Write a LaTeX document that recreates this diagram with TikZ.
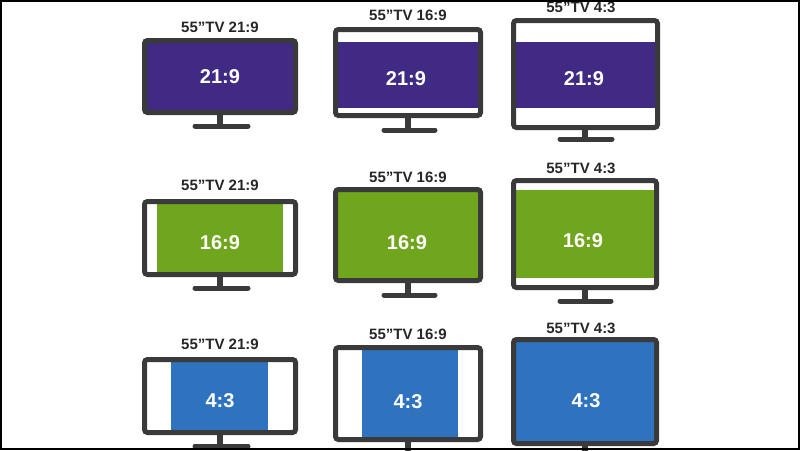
\documentclass[tikz,border=0pt]{standalone}
\usepackage{fontspec}
\setmainfont{Liberation Sans}
\definecolor{purp}{HTML}{402A83}
\definecolor{grn}{HTML}{70A61D}
\definecolor{blu}{HTML}{2F72BD}
\definecolor{frm}{HTML}{3A3A3A}
\tikzset{
  tvframe/.style={draw=frm, line width=5pt, rounded corners=3pt},
  lbl/.style={anchor=base, inner sep=0pt, font=\fontsize{15}{15}\selectfont\bfseries, text=black!85},
  scrtxt/.style={anchor=base, inner sep=0pt, font=\fontsize{20}{20}\selectfont\bfseries, text=white},
  neck/.style={draw=frm, line width=6pt},
  standbase/.style={draw=frm, line width=5pt, line cap=round},
}
\begin{document}
\begin{tikzpicture}[x=1pt,y=-1pt]
\useasboundingbox (0,0) rectangle (800,450);
\fill[white] (0,0) rectangle (800,450);
\begin{scope}
\clip (0,0) rectangle (800,450);
% ---------- Row 1 ----------
% TV1
\fill[purp] (147,43) rectangle (293,110);
\draw[tvframe] (144.5,40.5) rectangle (295.5,112.5);
\node[scrtxt] (s1) at (220,83) {21:9};
\node[lbl] (l1) at (220,32) {55”TV 21:9};
\coordinate (n1a) at (220,115); \coordinate (n1b) at (220,126);
\coordinate (b1a) at (195,126); \coordinate (b1b) at (248,126);
\draw[neck] (n1a) -- (n1b); \draw[standbase] (b1a) -- (b1b);
% TV2
\fill[purp] (338,42) rectangle (478,108);
\draw[tvframe] (335.5,29.5) rectangle (480.5,115.5);
\node[scrtxt] (s2) at (406,85) {21:9};
\node[lbl] (l2) at (408,20) {55”TV 16:9};
\coordinate (n2a) at (408,118); \coordinate (n2b) at (408,129);
\coordinate (b2a) at (384,130); \coordinate (b2b) at (435,130);
\draw[neck] (n2a) -- (n2b); \draw[standbase] (b2a) -- (b2b);
% TV3
\fill[purp] (516,42) rectangle (655,108);
\draw[tvframe] (513.5,20.5) rectangle (657.5,127.5);
\node[scrtxt] (s3) at (584,85) {21:9};
\node[lbl] (l3) at (581,12) {55”TV 4:3};
\coordinate (n3a) at (585,130); \coordinate (n3b) at (585,138);
\coordinate (b3a) at (560,139); \coordinate (b3b) at (612,139);
\draw[neck] (n3a) -- (n3b); \draw[standbase] (b3a) -- (b3b);
% ---------- Row 2 ----------
% TV4
\fill[grn] (157,204) rectangle (283,272);
\draw[tvframe] (144.5,201.5) rectangle (295.5,274.5);
\node[scrtxt] (s4) at (220,249) {16:9};
\node[lbl] (l4) at (220,190) {55”TV 21:9};
\coordinate (n4a) at (220,277); \coordinate (n4b) at (220,287);
\coordinate (b4a) at (195,288); \coordinate (b4b) at (248,288);
\draw[neck] (n4a) -- (n4b); \draw[standbase] (b4a) -- (b4b);
% TV5
\fill[grn] (338,192) rectangle (478,278);
\draw[tvframe] (335.5,189.5) rectangle (480.5,280.5);
\node[scrtxt] (s5) at (407,249) {16:9};
\node[lbl] (l5) at (408,182) {55”TV 16:9};
\coordinate (n5a) at (408,283); \coordinate (n5b) at (408,294);
\coordinate (b5a) at (384,295); \coordinate (b5b) at (435,295);
\draw[neck] (n5a) -- (n5b); \draw[standbase] (b5a) -- (b5b);
% TV6
\fill[grn] (516,190) rectangle (654,278);
\draw[tvframe] (513.5,180.5) rectangle (656.5,287.5);
\node[scrtxt] (s6) at (583,247) {16:9};
\node[lbl] (l6) at (581,173) {55”TV 4:3};
\coordinate (n6a) at (585,290); \coordinate (n6b) at (585,299);
\coordinate (b6a) at (560,301); \coordinate (b6b) at (611,301);
\draw[neck] (n6a) -- (n6b); \draw[standbase] (b6a) -- (b6b);
% ---------- Row 3 ----------
% TV7
\fill[blu] (171,362) rectangle (268,430);
\draw[tvframe] (144.5,359.5) rectangle (295.5,432.5);
\node[scrtxt] (s7) at (220,407) {4:3};
\node[lbl] (l7) at (220,349) {55”TV 21:9};
\coordinate (n7a) at (220,435); \coordinate (n7b) at (220,445);
\coordinate (b7a) at (195,446); \coordinate (b7b) at (248,446);
\draw[neck] (n7a) -- (n7b); \draw[standbase] (b7a) -- (b7b);
% TV8
\fill[blu] (362,350) rectangle (458,437);
\draw[tvframe] (335.5,347.5) rectangle (480.5,439.5);
\node[scrtxt] (s8) at (408,408) {4:3};
\node[lbl] (l8) at (408,339) {55”TV 16:9};
\coordinate (n8a) at (408,442); \coordinate (n8b) at (408,452);
\draw[neck] (n8a) -- (n8b);
% TV9
\fill[blu] (516,342) rectangle (654,441);
\draw[tvframe] (513.5,339.5) rectangle (656.5,443.5);
\node[scrtxt] (s9) at (586,407) {4:3};
\node[lbl] (l9) at (581,333) {55”TV 4:3};
\coordinate (n9a) at (585,446); \coordinate (n9b) at (585,452);
\draw[neck] (n9a) -- (n9b);
\end{scope}
% outer border
\draw[black, line width=2pt] (1,1) rectangle (799,449);
\end{tikzpicture}
\end{document}
